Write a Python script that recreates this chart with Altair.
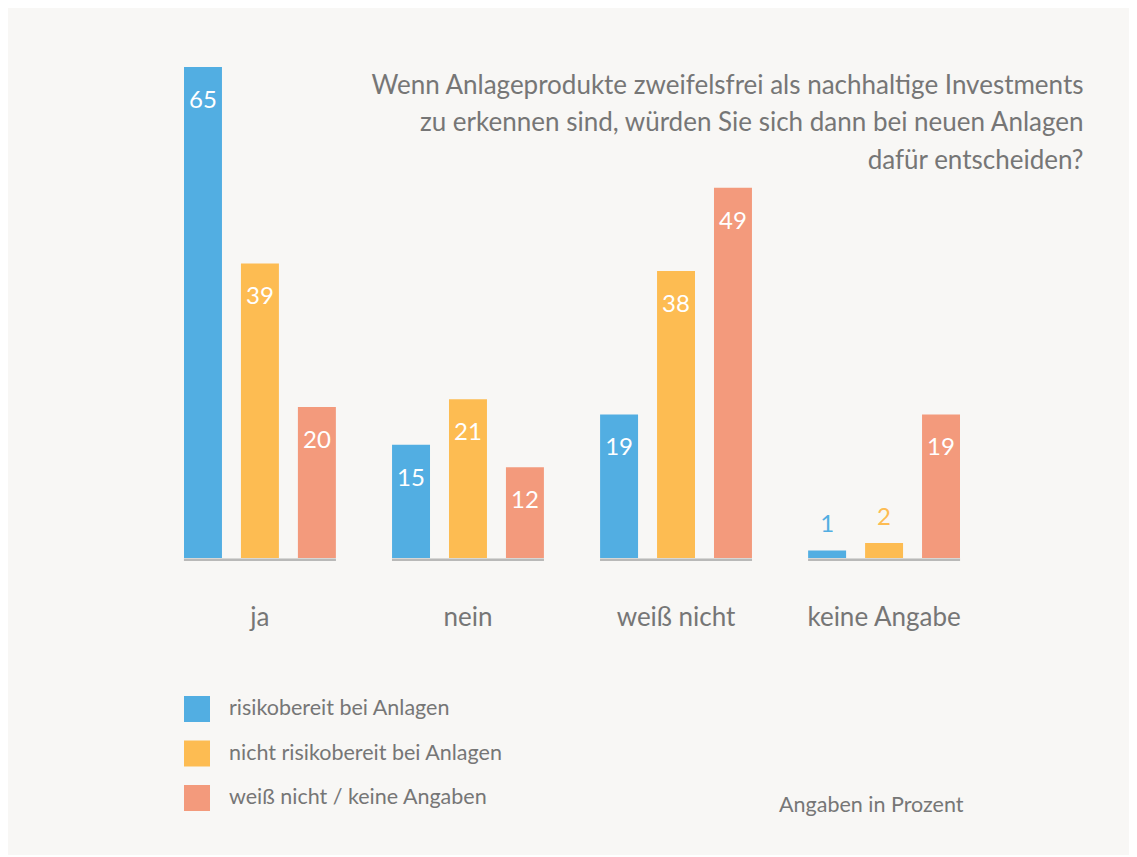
import altair as alt
import pandas as pd

categories = ["ja", "nein", "weiß nicht", "keine Angabe"]
series = ["risikobereit bei Anlagen", "nicht risikobereit bei Anlagen", "weiß nicht / keine Angaben"]
values_risiko = [65, 15, 19, 1]
values_nicht = [39, 21, 38, 2]
values_weiss = [20, 12, 49, 19]
colors = ["#52AEE2", "#FDBC52", "#F39A7C"]

title_lines = [
    "Wenn Anlageprodukte zweifelsfrei als nachhaltige Investments",
    "zu erkennen sind, würden Sie sich dann bei neuen Anlagen",
    "dafür entscheiden?",
]
note = "Angaben in Prozent"

rows = []
for s, vals in zip(series, [values_risiko, values_nicht, values_weiss]):
    for c, v in zip(categories, vals):
        rows.append({"cat": c, "series": s, "value": v, "inside": v >= 5})
df = pd.DataFrame(rows)
base_df = pd.DataFrame({"cat": categories})

FONT = "Lato"
W = "normal"
GRAY = "#767676"

x_enc = alt.X(
    "cat:N",
    sort=categories,
    scale=alt.Scale(paddingInner=0.27, paddingOuter=0),
    axis=alt.Axis(
        title=note,
        titleX=779, titleY=253, titleAlign="right", titleAnchor="end",
        titleBaseline="alphabetic", titleFontSize=21.5, titleColor=GRAY,
        titleFont=FONT, titleFontWeight=W,
        labelFontSize=26, labelColor=GRAY, labelFont=FONT, labelFontWeight=W,
        labelPadding=67, labelBaseline="alphabetic", labelAngle=0,
        ticks=False, tickSize=0, domain=False, grid=False,
    ),
)
xoff_enc = alt.XOffset("series:N", sort=series, scale=alt.Scale(paddingInner=1 / 3, paddingOuter=0))
y_enc = alt.Y(
    "value:Q",
    scale=alt.Scale(domain=[0, 65], nice=False, zero=True),
    axis=alt.Axis(
        title=title_lines,
        titleX=899, titleY=26, titleAlign="right", titleAngle=0,
        titleBaseline="alphabetic", titleFontSize=26, titleLineHeight=37.5,
        titleColor=GRAY, titleFont=FONT, titleFontWeight=W,
        labels=False, ticks=False, domain=False, grid=False,
    ),
)
color_enc = alt.Color(
    "series:N",
    scale=alt.Scale(domain=series, range=colors),
    legend=alt.Legend(
        title=None, orient="none", legendX=0, legendY=629,
        symbolType="square", symbolSize=676, symbolStrokeWidth=0, symbolOpacity=1,
        labelFontSize=21.5, labelColor=GRAY, labelFont=FONT, labelFontWeight=W, labelOffset=19,
        rowPadding=18.5, padding=0, labelLimit=400,
    ),
)

bars = alt.Chart(df).mark_bar().encode(x=x_enc, xOffset=xoff_enc, y=y_enc, color=color_enc)

baseline = alt.Chart(base_df).mark_tick(size=152, thickness=2.5, color="#9E9E9E", yOffset=1.75).encode(
    x=alt.X("cat:N", sort=categories), y=alt.datum(0)
)

inside = alt.Chart(df).transform_filter("datum.inside").mark_text(
    font=FONT, fontSize=24, fontWeight=W, baseline="alphabetic", align="center", dy=41, color="white"
).encode(x=alt.X("cat:N", sort=categories), xOffset=alt.XOffset("series:N", sort=series), y="value:Q", text="value:Q")

outside = alt.Chart(df).transform_filter("!datum.inside").mark_text(
    font=FONT, fontSize=24, fontWeight=W, baseline="alphabetic", align="center", dy=-18
).encode(
    x=alt.X("cat:N", sort=categories),
    xOffset=alt.XOffset("series:N", sort=series),
    y="value:Q",
    text="value:Q",
    color=alt.Color("series:N", scale=alt.Scale(domain=series, range=colors), legend=None),
)

chart = alt.layer(bars, baseline, inside, outside).properties(
    width=776, height=491,
    autosize=alt.AutoSizeParams(type="none"),
    padding={"left": 176, "top": 59, "right": 169, "bottom": 297},
).configure(
    background="#F8F7F5",
).configure_view(stroke=None)

chart.save("out.html", embed_options={"renderer": "svg", "actions": False})
